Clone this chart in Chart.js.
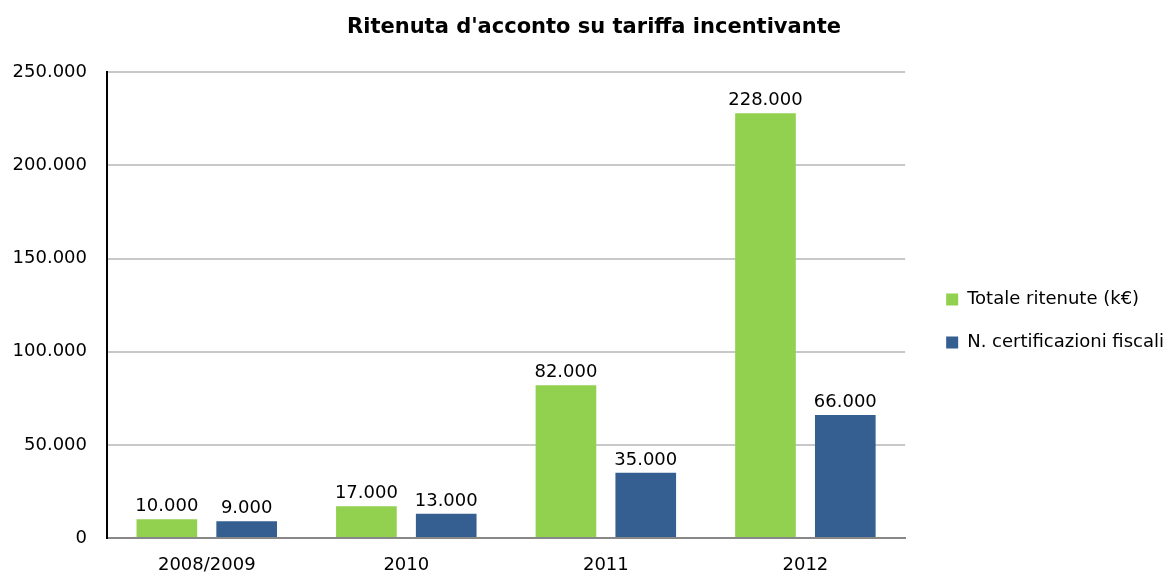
<!DOCTYPE html>
<html>
<head>
<meta charset="utf-8">
<script src="https://cdn.jsdelivr.net/npm/chart.js@4"></script>
<style>
  html, body { margin: 0; padding: 0; background: #fff; }
</style>
</head>
<body>
<canvas id="myChart" width="1167" height="576"></canvas>
<script>
var categories = ['2008/2009', '2010', '2011', '2012'];
var totaleRitenute = [10000, 17000, 82000, 228000];
var certificazioni = [9000, 13000, 35000, 66000];
var seriesNames = ['Totale ritenute (k€)', 'N. certificazioni fiscali'];
var yTicks = [0, 50000, 100000, 150000, 200000, 250000];

/* formato italiano: 250.000 */
function fmt(v) {
    return String(v).replace(/\B(?=(\d{3})+(?!\d))/g, '.');
}

var FONT = '"DejaVu Sans", Verdana, sans-serif';

/* etichette sopra le barre */
var barLabels = {
    id: 'barLabels',
    afterDatasetsDraw: function(chart) {
        var ctx = chart.ctx;
        ctx.save();
        ctx.font = '18px ' + FONT;
        ctx.fillStyle = '#000';
        ctx.textAlign = 'center';
        ctx.textBaseline = 'alphabetic';
        chart.data.datasets.forEach(function(ds, i) {
            chart.getDatasetMeta(i).data.forEach(function(bar, j) {
                ctx.fillText(fmt(ds.data[j]), bar.x, bar.y - 8);
            });
        });
        ctx.restore();
    }
};

/* legenda un po' staccata dal grafico, titolo centrato come l'originale */
var legendShift = {
    id: 'legendShift',
    afterLayout: function(chart) {
        chart.legend.left += 16;
        chart.legend.right += 16;
        chart.titleBlock.left += 10;
        chart.titleBlock.right += 10;
    }
};

var ctx = document.getElementById('myChart').getContext('2d');
var myChart = new Chart(ctx, {
    type: 'bar',
    data: {
        labels: categories,
        datasets: [{
            label: seriesNames[0],
            data: totaleRitenute,
            backgroundColor: '#92D050'
        }, {
            label: seriesNames[1],
            data: certificazioni,
            backgroundColor: '#365F91'
        }]
    },
    plugins: [barLabels, legendShift],
    options: {
        responsive: false,
        animation: false,
        categoryPercentage: 0.8,
        barPercentage: 0.76,
        layout: {
            padding: { left: 10, right: 9, top: 10, bottom: 0 }
        },
        plugins: {
            title: {
                display: true,
                text: "Ritenuta d'acconto su tariffa incentivante",
                color: '#000',
                font: { family: FONT, size: 21, weight: 'bold' },
                padding: { top: 5, bottom: 32 }
            },
            legend: {
                position: 'right',
                title: {
                    display: true,
                    text: ' ',
                    font: { size: 10 },
                    padding: 22
                },
                labels: {
                    color: '#000',
                    font: { family: FONT, size: 18 },
                    boxWidth: 12,
                    boxHeight: 12,
                    padding: 25
                }
            },
            tooltip: { enabled: false }
        },
        scales: {
            x: {
                grid: { display: false, drawTicks: false },
                border: { color: '#888', width: 2 },
                ticks: {
                    color: '#000',
                    font: { family: FONT, size: 18 },
                    padding: 17
                },
                afterFit: function(axis) { axis.height = 38; }
            },
            y: {
                min: 0,
                max: 250000,
                afterBuildTicks: function(axis) {
                    axis.ticks = yTicks.map(function(v) { return { value: v }; });
                },
                grid: {
                    drawTicks: false,
                    color: function(c) { return c.tick && c.tick.value === 0 ? '#888' : '#c8c8c8'; },
                    lineWidth: 2
                },
                border: { color: '#000', width: 2 },
                ticks: {
                    color: '#000',
                    font: { family: FONT, size: 18 },
                    padding: 20,
                    callback: function(v) { return fmt(v); }
                },
                afterFit: function(axis) { axis.width = 97; }
            }
        }
    }
});
</script>
</body>
</html>
